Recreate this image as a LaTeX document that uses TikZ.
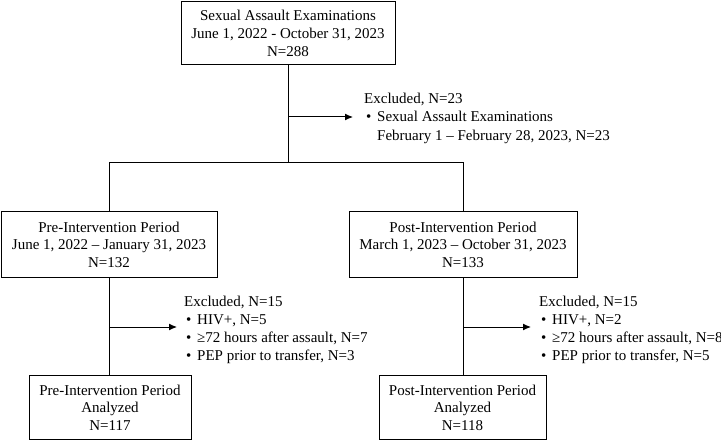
\documentclass[tikz,border=0pt]{standalone}
\usepackage{fontspec}
\setmainfont{Liberation Serif}
\usetikzlibrary{arrows.meta}
\newcommand{\bul}{\makebox[13pt][l]{\hspace{2pt}\textbullet}}
\newcommand{\ind}{\makebox[13pt][l]{}}
\begin{document}
\begin{tikzpicture}[x=1pt,y=-1pt,
  box/.style={draw=black,line width=1pt,inner sep=0pt,align=center,
    font=\fontsize{15}{17.5}\selectfont},
  extext/.style={inner sep=0pt,align=left,anchor=west,
    font=\fontsize{15}{18}\selectfont},
  conn/.style={draw=black,line width=1pt},
  arr/.style={conn,-{Latex[length=8pt,width=7pt]}}]
\useasboundingbox (0,0) rectangle (721,441);

\node[box,minimum width=214pt,minimum height=63pt,
  font=\fontsize{15}{18}\selectfont] (top) at (288,33)
  {Sexual Assault Examinations\\June 1, 2022 - October 31, 2023\\N=288};
\node[box,minimum width=216pt,minimum height=65pt] (pre) at (109,244.5)
  {Pre-Intervention Period\\June 1, 2022 -- January 31, 2023\\N=132};
\node[box,minimum width=228pt,minimum height=65pt] (post) at (463,244.5)
  {Post-Intervention Period\\March 1, 2023 -- October 31, 2023\\N=133};
\node[box,minimum width=162pt,minimum height=64pt] (preA) at (110,407.5)
  {Pre-Intervention Period\\Analyzed\\N=117};
\node[box,minimum width=167pt,minimum height=64pt] (postA) at (462.5,407.5)
  {Post-Intervention Period\\Analyzed\\N=118};

\node[extext,font=\fontsize{15}{18.5}\selectfont] (exA) at (364,118)
  {Excluded, N=23\\\bul Sexual Assault Examinations\\\ind February 1 -- February 28, 2023, N=23};
\node[extext] (exB) at (184,330)
  {Excluded, N=15\\\bul HIV+, N=5\\\bul ≥72 hours after assault, N=7\\\bul PEP prior to transfer, N=3};
\node[extext] (exC) at (539,330)
  {Excluded, N=15\\\bul HIV+, N=2\\\bul ≥72 hours after assault, N=8\\\bul PEP prior to transfer, N=5};

\coordinate (j) at (288,163);
\draw[conn] (top.south) -- (j);
\draw[conn] (pre.north) -- (pre.north |- j) -- (post.north |- j) -- (post.north);
\draw[conn] (pre.south) -- (preA.north -| pre.south);
\draw[conn] (post.south) -- (postA.north -| post.south);

\draw[arr] (top.south |- 0,117) -- (353,117);
\draw[arr] (pre.south |- 0,327) -- (177,327);
\draw[arr] (post.south |- 0,327) -- (531,327);
\end{tikzpicture}
\end{document}
